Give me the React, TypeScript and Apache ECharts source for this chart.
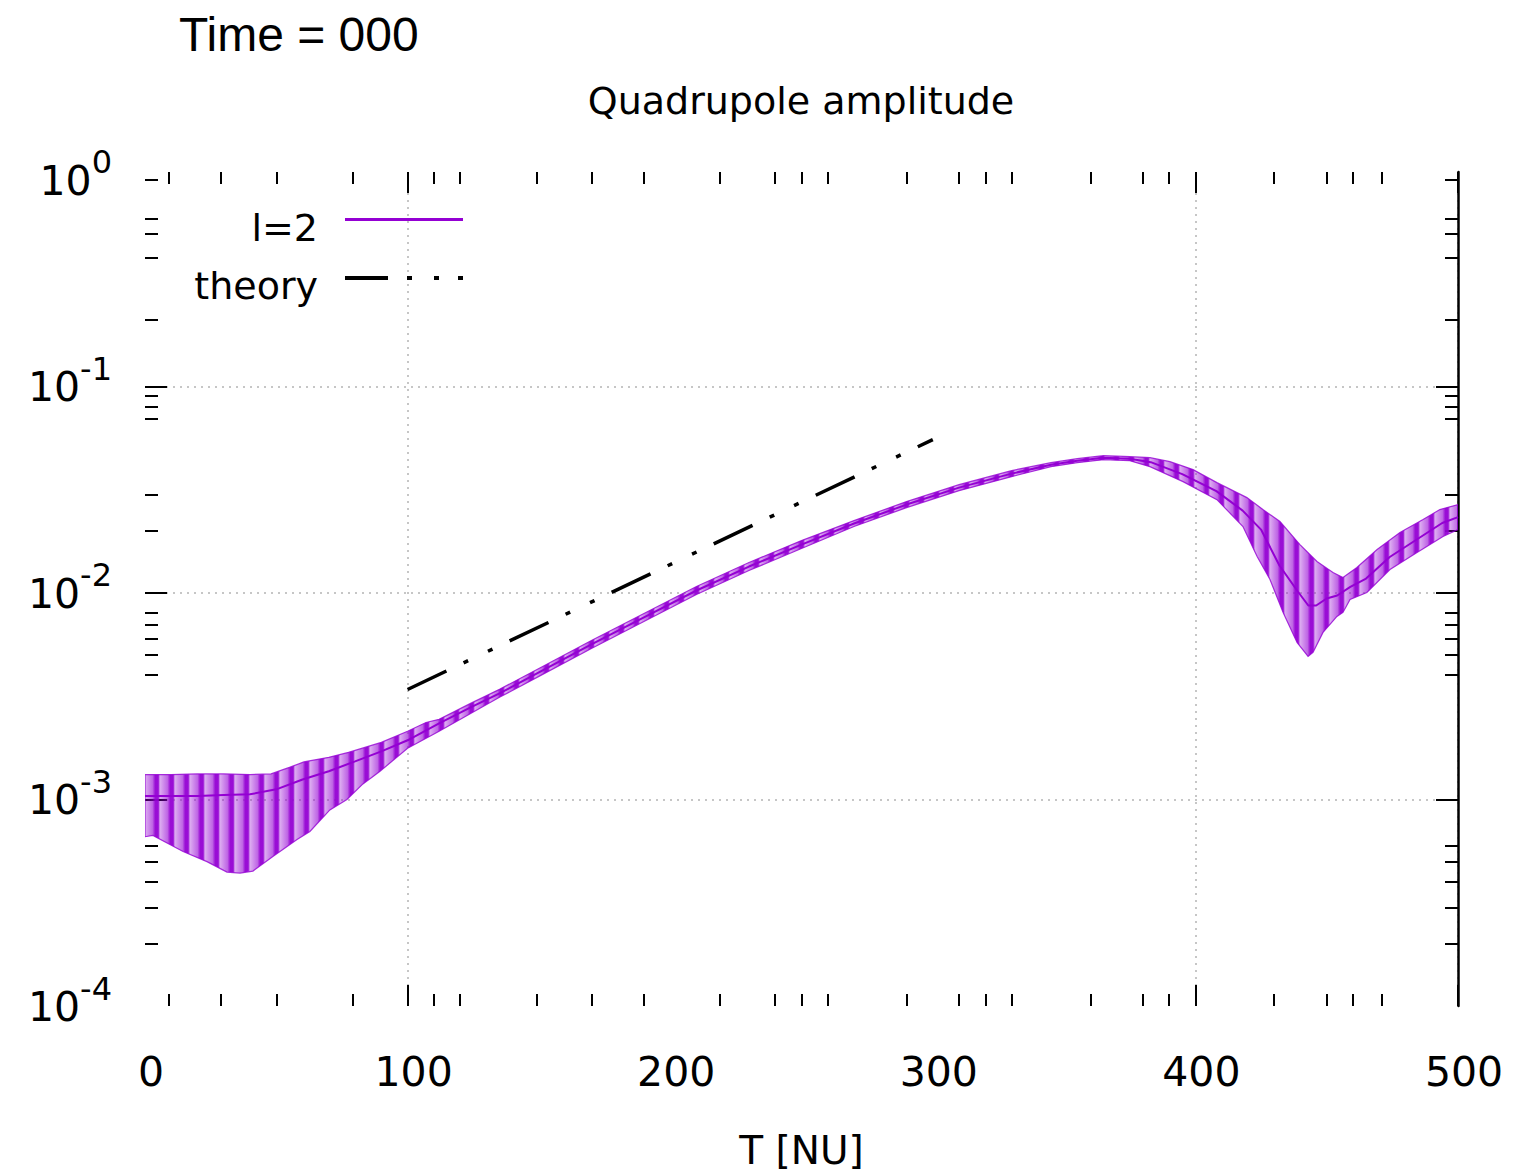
import React, { useEffect, useRef } from 'react';
import * as echarts from 'echarts';

// ---- tick values ----
const xLabelTicks = [0, 100, 200, 300, 400, 500];
const xMajorTicks = [100, 400, 500];
const xMinorTicks = [9, 29, 50, 79, 110, 120, 149, 170, 190, 219, 240, 250, 260, 290, 310, 320, 330, 360, 380, 390, 430, 450, 460, 471];
const yLabelTicks = [1, 0.1, 0.01, 0.001, 0.0001];
const yMajorTicks = [0.1, 0.01, 0.001];
const yMinorTicks = [1, 0.65, 0.55, 0.42, 0.21, 0.09, 0.08, 0.07, 0.03, 0.02, 0.008, 0.007, 0.006, 0.005, 0.004, 0.0006, 0.0005, 0.0004, 0.0003, 0.0002];
const yMin = 0.0001;
const yMax = 1.093;

// ---- l=2 amplitude: centre line and oscillation envelope ----
const l2Center: [number, number][] = [
  [0, 1.04e-3], [10, 1.04e-3], [20, 1.04e-3], [30, 1.05e-3], [40, 1.06e-3], [50, 1.12e-3],
  [60, 1.25e-3], [70, 1.37e-3], [80, 1.53e-3], [90, 1.71e-3], [100, 1.935e-3], [112, 2.337e-3],
  [124, 2.793e-3], [135, 3.265e-3], [150, 4.125e-3], [170, 5.634e-3], [190, 7.61e-3], [210, 0.01028],
  [230, 0.01343], [250, 0.01716], [270, 0.02169], [290, 0.0268], [310, 0.03238], [330, 0.03784],
  [345, 0.04182], [355, 0.04374], [365, 0.04521], [375, 0.04471], [383, 0.043], [395, 0.03763],
  [408, 0.03114], [418, 0.02506], [425, 0.02028], [432, 0.01358], [439, 0.01017], [443, 0.0087],
  [446, 0.0087], [450, 0.0094], [454, 0.00972], [459, 0.0107], [465, 0.01175], [474, 0.01494],
  [484, 0.01805], [494, 0.02182], [500, 0.02331],
];
const l2Upper: [number, number][] = [
  [0, 1.32e-3], [10, 1.32e-3], [20, 1.33e-3], [30, 1.33e-3], [40, 1.32e-3], [48, 1.33e-3],
  [55, 1.43e-3], [60.5, 1.52e-3], [70, 1.6e-3], [77.5, 1.69e-3], [90, 1.89e-3], [100, 2.14e-3],
  [107, 2.36e-3], [112, 2.444e-3], [124, 2.92e-3], [135, 3.414e-3], [150, 4.312e-3], [170, 5.892e-3],
  [190, 7.96e-3], [210, 0.01075], [230, 0.01404], [250, 0.01794], [270, 0.02242], [290, 0.02771],
  [310, 0.03347], [330, 0.03913], [345, 0.04277], [355, 0.04471], [365, 0.04624], [375, 0.04572],
  [382.7, 0.04521], [390.3, 0.04325], [399.1, 0.03958], [408.2, 0.03423], [419.6, 0.02897],
  [425.7, 0.02535], [432.2, 0.02218], [439.8, 0.01716], [446.3, 0.0142], [452.4, 0.01257],
  [456.2, 0.01189], [461.5, 0.01328], [469.2, 0.01623], [477.9, 0.01962], [486.7, 0.02267],
  [493.1, 0.02535], [500, 0.02679],
];
const l2Lower: [number, number][] = [
  [0, 6.6e-4], [3, 6.7e-4], [14.5, 5.6e-4], [23.6, 5.0e-4], [31.2, 4.45e-4], [36.2, 4.4e-4],
  [41.1, 4.5e-4], [48.7, 5.3e-4], [57.9, 6.4e-4], [62.8, 7.0e-4], [70.4, 8.9e-4], [76.9, 1.0e-3],
  [83, 1.19e-3], [89.5, 1.37e-3], [100, 1.77e-3], [112, 2.14e-3], [124, 2.61e-3], [135, 3.124e-3],
  [150, 3.946e-3], [170, 5.39e-3], [190, 7.28e-3], [210, 9.83e-3], [230, 0.01285], [250, 0.01641],
  [270, 0.02098], [290, 0.02591], [310, 0.03131], [330, 0.0366], [345, 0.04091], [355, 0.04277],
  [365, 0.04421], [375, 0.04374], [382.7, 0.04091], [395.3, 0.03461], [408.2, 0.02832],
  [418.1, 0.02098], [423.5, 0.01501], [428.4, 0.01162], [433.4, 0.00805], [438.7, 0.00576],
  [442.9, 0.00493], [444.8, 0.00516], [448.6, 0.00644], [453.9, 0.0077], [456.2, 0.00805],
  [458.9, 0.0093], [465.3, 0.01006], [474.1, 0.01299], [484.4, 0.0157], [494.3, 0.01876],
  [500, 0.02028],
];

// ---- theory growth line ----
const theory: [number, number][] = [[100, 3.41e-3], [300, 0.0553]];

const lg = (v: number) => Math.log10(v);
const toLog = (arr: [number, number][]) => arr.map(([x, v]) => [x, lg(v)]);

const FONT = 'DejaVu Sans';
const PURPLE = '#9400d3';

// legend sample icons (a tiny square at lower-left keeps a 140x20 box)
const ICON_L2 = 'path://M-22,19.99h0.01v0.01h-0.01zM0,0H118V3H0Z';
const ICON_THEORY = 'path://M-22,19.99h0.01v0.01h-0.01zM0,0H43V4H0ZM62,0H67V4H62ZM89,0H94V4H89ZM113,0H118V4H113Z';

function buildStripeFill() {
  const stops: { offset: number; color: string }[] = [];
  const p = 15 / 1313;
  for (let a = 0; a < 1 - 1e-9; a += p) {
    stops.push({ offset: a, color: 'rgba(148,0,211,0.32)' });
    stops.push({ offset: Math.min(1, a + 0.5 * p), color: 'rgba(148,0,211,0.6)' });
    stops.push({ offset: Math.min(1, a + 0.68 * p), color: 'rgba(148,0,211,0.95)' });
    stops.push({ offset: Math.min(1, a + 0.88 * p), color: 'rgba(148,0,211,0.95)' });
  }
  return new echarts.graphic.LinearGradient(145, 0, 1458, 0, stops, true);
}

function buildOption() {
  const tickLine = { color: '#000', width: 2 };
  const xBase = {
    type: 'value',
    min: 0,
    max: 500,
    axisLine: { show: false, onZero: false },
    splitLine: { show: false },
    axisLabel: { show: false },
  };
  const yBase = {
    type: 'value',
    min: lg(yMin),
    max: lg(yMax),
    axisLine: { show: false, onZero: false },
    splitLine: { show: false },
    axisLabel: { show: false },
  };
  const grid = { color: '#b4b4b4', width: 1.5, type: [2, 5] };
  const stripe = buildStripeFill();
  const legendText = { fontFamily: FONT, fontSize: 38, color: '#000' };

  return {
    animation: false,
    backgroundColor: '#ffffff',
    title: [
      {
        text: 'Time = 000',
        left: 179,
        top: 10,
        padding: 0,
        textStyle: { fontFamily: 'Liberation Sans', fontSize: 48, fontWeight: 'normal', color: '#000' },
      },
      {
        text: 'Quadrupole amplitude',
        left: 801,
        top: 82,
        padding: 0,
        textAlign: 'center',
        textStyle: { fontFamily: FONT, fontSize: 38, fontWeight: 'normal', color: '#000' },
      },
    ],
    legend: [
      {
        data: [{ name: 'l=2', icon: ICON_L2 }],
        orient: 'vertical',
        right: 1046,
        top: 204,
        align: 'right',
        itemWidth: 140,
        itemHeight: 20,
        selectedMode: false,
        textStyle: legendText,
      },
      {
        data: [{ name: 'theory', icon: ICON_THEORY }],
        orient: 'vertical',
        right: 1046,
        top: 262,
        align: 'right',
        itemWidth: 140,
        itemHeight: 20,
        selectedMode: false,
        textStyle: legendText,
      },
    ],
    grid: { left: 145, right: 56, top: 172, bottom: 167, containLabel: false },
    xAxis: [
      {
        ...xBase,
        position: 'bottom',
        axisTick: { show: true, inside: true, length: 21, customValues: xMajorTicks, lineStyle: tickLine },
        axisLabel: {
          show: true,
          customValues: xLabelTicks,
          fontFamily: FONT,
          fontSize: 41,
          color: '#000',
          margin: 45,
          padding: [0, 0, 0, 12],
        },
        splitLine: { show: true, lineStyle: grid },
        name: 'T [NU]',
        nameLocation: 'middle',
        nameGap: 125,
        nameTextStyle: { fontFamily: FONT, fontSize: 39, color: '#000' },
      },
      {
        ...xBase,
        position: 'bottom',
        axisTick: { show: true, inside: true, length: 12, customValues: xMinorTicks, lineStyle: tickLine },
      },
      {
        ...xBase,
        position: 'top',
        axisTick: { show: true, inside: true, length: 21, customValues: xMajorTicks, lineStyle: tickLine },
      },
      {
        ...xBase,
        position: 'top',
        axisTick: { show: true, inside: true, length: 12, customValues: xMinorTicks, lineStyle: tickLine },
      },
    ],
    yAxis: [
      {
        ...yBase,
        position: 'left',
        axisTick: { show: true, inside: true, length: 22, customValues: yMajorTicks.map(lg), lineStyle: tickLine },
        axisLabel: {
          show: true,
          customValues: yLabelTicks.map(lg),
          margin: 33,
          padding: [0, 0, 12, 0],
          formatter: (v: number) => `{b|10}{s|${Math.round(v)}}`,
          rich: {
            b: { fontFamily: FONT, fontSize: 41, lineHeight: 55, color: '#000', verticalAlign: 'bottom' },
            s: { fontFamily: FONT, fontSize: 32, lineHeight: 30, color: '#000', verticalAlign: 'top' },
          },
        },
        splitLine: { show: true, lineStyle: grid },
      },
      {
        ...yBase,
        position: 'left',
        axisTick: { show: true, inside: true, length: 13, customValues: yMinorTicks.map(lg), lineStyle: tickLine },
      },
      {
        ...yBase,
        position: 'right',
        axisLine: { show: true, onZero: false, lineStyle: { color: '#000', width: 2.5 } },
        axisTick: { show: true, inside: true, length: 22, customValues: yMajorTicks.map(lg), lineStyle: tickLine },
      },
      {
        ...yBase,
        position: 'right',
        axisTick: { show: true, inside: true, length: 13, customValues: yMinorTicks.map(lg), lineStyle: tickLine },
      },
    ],
    series: [
      {
        name: 'band',
        type: 'custom',
        xAxisIndex: 0,
        yAxisIndex: 0,
        clip: true,
        silent: true,
        data: [0],
        renderItem: (_params: any, api: any) => {
          const pts = [
            ...l2Upper.map(([x, v]) => api.coord([x, lg(v)])),
            ...l2Lower.slice().reverse().map(([x, v]) => api.coord([x, lg(v)])),
          ];
          return {
            type: 'polygon',
            shape: { points: pts },
            style: { fill: stripe, stroke: 'rgba(148,0,211,0.8)', lineWidth: 1.2 },
          };
        },
        z: 2,
      },
      {
        name: 'l=2',
        type: 'line',
        xAxisIndex: 0,
        yAxisIndex: 0,
        data: toLog(l2Center),
        symbol: 'none',
        color: PURPLE,
        lineStyle: { color: PURPLE, width: 2 },
        z: 3,
      },
      {
        name: 'theory',
        type: 'line',
        xAxisIndex: 0,
        yAxisIndex: 0,
        data: toLog(theory),
        symbol: 'none',
        color: '#000',
        lineStyle: { color: '#000', width: 3.5, type: [43, 19, 5, 22, 5, 19], cap: 'butt' },
        z: 4,
      },
    ],
  };
}

export default function App() {
  const ref = useRef<HTMLDivElement>(null);
  useEffect(() => {
    document.body.style.margin = '0';
    if (!ref.current) return;
    const chart = echarts.init(ref.current, null, { renderer: 'svg' });
    chart.setOption(buildOption() as any);
    return () => chart.dispose();
  }, []);
  return <div ref={ref} style={{ width: 1514, height: 1175, background: '#fff' }} />;
}
